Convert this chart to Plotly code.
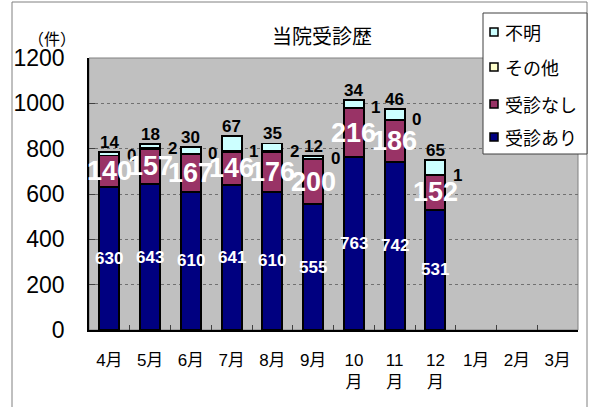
import plotly.graph_objects as go

# ---- data ----
months = ["4月", "5月", "6月", "7月", "8月", "9月", "10<br>月", "11<br>月", "12<br>月", "1月", "2月", "3月"]
jushin_ari = [630, 643, 610, 641, 610, 555, 763, 742, 531]      # 受診あり
jushin_nashi = [140, 157, 167, 146, 176, 200, 216, 186, 152]    # 受診なし
sonota = [0, 2, 0, 1, 2, 0, 1, 0, 1]                            # その他
fumei = [14, 18, 30, 67, 35, 12, 34, 46, 65]                    # 不明
y_ticks = [0, 200, 400, 600, 800, 1000, 1200]

NUM = "Liberation Sans, Arial, Noto Sans CJK JP"
JP = "Noto Sans CJK JP, Liberation Sans"

W, H = 591, 407
L, R, T, B = 89, 13, 58, 77
PW, PH = W - L - R, H - T - B


def px_x(x):
    return (x - L) / PW


def px_y(y):
    return (H - B - y) / PH


n = len(jushin_ari)
xs = months[:n]

fig = go.Figure()
series = [
    ("受診あり", jushin_ari, "#000080"),
    ("受診なし", jushin_nashi, "#993366"),
    ("その他", sonota, "#FFFFCC"),
    ("不明", fumei, "#CCFFFF"),
]
for name, vals, col in series:
    fig.add_trace(go.Bar(
        name=name, x=xs, y=vals, showlegend=False,
        marker=dict(color=col, line=dict(color="black", width=1.8)),
    ))

ann = []
for i in range(n):
    a, b, c, d = jushin_ari[i], jushin_nashi[i], sonota[i], fumei[i]
    x = xs[i]
    ann.append(dict(x=x, y=a / 2, text=str(a), showarrow=False,
                    font=dict(family=NUM, size=17, color="white", weight="bold")))
    ann.append(dict(x=x, y=a + b / 2, text=str(b), showarrow=False,
                    font=dict(family=NUM, size=27, color="white", weight="bold")))
    ann.append(dict(x=x, y=a + b + c / 2, text=str(c), showarrow=False, xshift=22,
                    font=dict(family=NUM, size=17, color="black", weight="bold")))
    ann.append(dict(x=x, y=a + b + c + d, text=str(d), showarrow=False,
                    yanchor="bottom", yshift=-2,
                    font=dict(family=NUM, size=17, color="black", weight="bold")))

ann.append(dict(xref="paper", yref="paper", x=px_x(322), y=px_y(35), text="当院受診歴",
                xanchor="center", yanchor="middle",
                showarrow=False, font=dict(family=JP, size=20, color="black")))
ann.append(dict(xref="paper", yref="paper", x=px_x(52), y=px_y(38), text="（件）",
                xanchor="center", yanchor="middle",
                showarrow=False, font=dict(family=JP, size=16, color="black")))

shapes = [
    # plot area frame (top/right grey)
    dict(type="rect", xref="paper", yref="paper", x0=0, x1=1, y0=0, y1=1,
         line=dict(color="#808080", width=1), layer="below"),
    # outer chart frame
    dict(type="rect", xref="paper", yref="paper", x0=px_x(12), x1=px_x(587),
         y0=px_y(420), y1=px_y(2), line=dict(color="#808080", width=1)),
    # legend box
    dict(type="rect", xref="paper", yref="paper", x0=px_x(483), x1=px_x(587),
         y0=px_y(154), y1=px_y(13), fillcolor="white",
         line=dict(color="#404040", width=1), layer="above"),
]

# hand-built legend (top to bottom: reversed series order)
leg_y = [32, 67, 104, 137]
for (name, _, col), yy in zip(series[::-1], leg_y):
    shapes.append(dict(type="rect", xref="paper", yref="paper",
                       x0=px_x(490), x1=px_x(498), y0=px_y(yy + 4), y1=px_y(yy - 4),
                       fillcolor=col, line=dict(color="black", width=1.5), layer="above"))
    ann.append(dict(xref="paper", yref="paper", x=px_x(503), y=px_y(yy), text=name,
                    xanchor="left", yanchor="middle", showarrow=False,
                    font=dict(family=JP, size=18, color="black")))

fig.update_layout(
    width=W, height=H,
    margin=dict(l=L, r=R, t=T, b=B, pad=0, autoexpand=False),
    paper_bgcolor="white", plot_bgcolor="#C0C0C0",
    barmode="stack", bargap=0.51,
    annotations=ann, shapes=shapes, showlegend=False,
    xaxis=dict(
        type="category", categoryorder="array", categoryarray=months,
        tickvals=months, ticktext=months,
        range=[-0.5, len(months) - 0.5],
        tickson="boundaries", ticks="inside", ticklen=5, tickcolor="#404040",
        showline=True, linecolor="black", linewidth=1.5,
        showgrid=False, zeroline=False,
        tickfont=dict(family=NUM, size=17, color="black"),
        ticklabelstandoff=14, automargin=False,
    ),
    yaxis=dict(
        range=[0, 1200], tickvals=y_ticks, ticktext=[str(v) for v in y_ticks],
        ticks="inside", ticklen=6, tickcolor="#404040",
        showline=True, linecolor="black", linewidth=1.5,
        showgrid=True, gridcolor="#707070", griddash="dot", gridwidth=1,
        zeroline=False, automargin=False,
        tickfont=dict(family=NUM, size=23, color="black"),
        ticklabelstandoff=18,
    ),
)

fig.write_html("out.html", config={"displayModeBar": False},
               post_script="document.body.style.margin='0';")
